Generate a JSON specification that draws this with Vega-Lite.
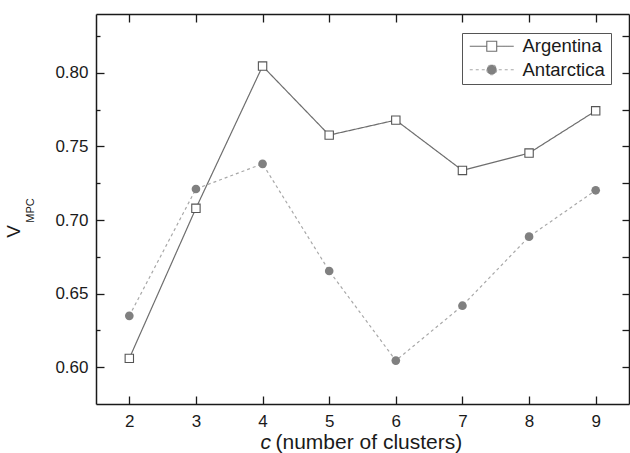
{
  "$schema": "https://vega.github.io/schema/vega-lite/v6.json",
  "width": 533,
  "height": 390,
  "autosize": {"type": "none"},
  "padding": {"left": 96, "top": 14, "right": 1, "bottom": 49},
  "background": "white",
  "config": {
    "font": "Liberation Sans",
    "view": {"stroke": null},
    "axis": {"grid": false, "domainColor": "#1a1a1a", "domainWidth": 1.5, "tickColor": "#1a1a1a", "tickWidth": 1.3, "labelColor": "#1a1a1a", "titleColor": "#1a1a1a", "labelFont": "Liberation Sans", "titleFont": "Liberation Sans", "titleFontWeight": "normal"}
  },
  "data": {
    "values": [
      {"c": 2, "series": "Argentina", "v": 0.606},
      {"c": 3, "series": "Argentina", "v": 0.708},
      {"c": 4, "series": "Argentina", "v": 0.8046},
      {"c": 5, "series": "Argentina", "v": 0.7577},
      {"c": 6, "series": "Argentina", "v": 0.7679},
      {"c": 7, "series": "Argentina", "v": 0.7337},
      {"c": 8, "series": "Argentina", "v": 0.7455},
      {"c": 9, "series": "Argentina", "v": 0.7742},
      {"c": 2, "series": "Antarctica", "v": 0.6349},
      {"c": 3, "series": "Antarctica", "v": 0.7211},
      {"c": 4, "series": "Antarctica", "v": 0.7382},
      {"c": 5, "series": "Antarctica", "v": 0.6654},
      {"c": 6, "series": "Antarctica", "v": 0.6045},
      {"c": 7, "series": "Antarctica", "v": 0.6418},
      {"c": 8, "series": "Antarctica", "v": 0.6887},
      {"c": 9, "series": "Antarctica", "v": 0.7202}
    ]
  },
  "resolve": {"axis": {"x": "independent", "y": "independent"}},
  "layer": [
    {
      "mark": {"type": "line", "strokeWidth": 1.2},
      "encoding": {
        "x": {"field": "c", "type": "quantitative", "scale": {"domain": [1.5, 9.5], "nice": false, "zero": false},
          "axis": {"orient": "bottom", "values": [2, 3, 4, 5, 6, 7, 8, 9], "tickSize": -8, "labelPadding": 17, "labelFontSize": 17,
            "title": "(number of clusters)", "titleFontSize": 21, "titleX": 179, "titleY": 44, "titleAlign": "left", "titleBaseline": "alphabetic", "titleAnchor": null}},
        "y": {"field": "v", "type": "quantitative", "scale": {"domain": [0.575, 0.84], "nice": false, "zero": false},
          "axis": {"orient": "left", "values": [0.6, 0.65, 0.7, 0.75, 0.8], "format": ".2f", "tickSize": -8, "labelPadding": 16, "labelFontSize": 17,
            "title": "V", "titleFontSize": 19, "titleAngle": 270, "titleX": -77, "titleY": 217, "titleAlign": "center", "titleBaseline": "alphabetic"}},
        "color": {"field": "series", "type": "nominal", "scale": {"domain": ["Argentina", "Antarctica"], "range": ["#6e6e6e", "#a8a8a8"]},
          "legend": {
            "title": null, "orient": "none", "legendX": 366, "legendY": 19,
            "strokeColor": "#555555", "padding": 4, "symbolSize": 121, "labelFontSize": 18.5, "labelFont": "Liberation Sans", "labelColor": "#1a1a1a",
            "labelOffset": 38, "rowPadding": 4.5,
            "encode": {"symbols": {"update": {
              "shape": {"signal": "datum.value === 'Argentina' ? 'M-2.45,0M23.5,0M-1,0H2.1M3.9,0H7M2.1,-0.9H3.9V0.9H2.1Z' : 'M-2.45,0M23.5,0M-1,0H-0.45M0.09,0H0.64M1.18,0H1.73M4.27,0H4.82M5.36,0H5.91M6.45,0H7M2.1,0A0.9,0.9 0 1,0 3.9,0A0.9,0.9 0 1,0 2.1,0Z'"},
              "fill": {"signal": "datum.value === 'Argentina' ? '#ffffff' : '#808080'"},
              "stroke": {"signal": "datum.value === 'Argentina' ? '#555555' : '#9a9a9a'"},
              "strokeDash": {"value": []},
              "strokeWidth": {"value": 1.1},
              "opacity": {"value": 1}
            }}}
          }},
        "strokeDash": {"field": "series", "type": "nominal", "scale": {"domain": ["Argentina", "Antarctica"], "range": [[1, 0], [3, 3]]}, "legend": null}
      }
    },
    {
      "transform": [{"filter": "datum.series === 'Argentina'"}],
      "mark": {"type": "point", "shape": "square", "size": 70, "strokeWidth": 1.1, "opacity": 1, "fill": "#ffffff", "stroke": "#555555", "filled": false},
      "encoding": {
        "x": {"field": "c", "type": "quantitative",
          "axis": {"orient": "top", "values": [2, 3, 4, 5, 6, 7, 8, 9], "tickSize": -8, "labels": false, "title": null}},
        "y": {"field": "v", "type": "quantitative",
          "axis": {"orient": "right", "values": [0.6, 0.625, 0.65, 0.675, 0.7, 0.725, 0.75, 0.775, 0.8, 0.825], "tickSize": -7, "labels": false, "title": null}}
      }
    },
    {
      "transform": [{"filter": "datum.series === 'Antarctica'"}],
      "mark": {"type": "point", "shape": "circle", "size": 75, "opacity": 1, "filled": true, "color": "#808080"},
      "encoding": {
        "x": {"field": "c", "type": "quantitative", "axis": null},
        "y": {"field": "v", "type": "quantitative", "axis": null}
      }
    },
    {
      "mark": {"type": "point", "opacity": 0},
      "encoding": {
        "x": {"field": "c", "type": "quantitative",
          "axis": {"orient": "bottom", "labels": false, "ticks": false, "domain": false, "title": "c", "titleFontStyle": "italic", "titleFontSize": 21, "titleX": 164, "titleY": 44, "titleAlign": "left", "titleBaseline": "alphabetic", "titleAnchor": null}},
        "y": {"field": "v", "type": "quantitative",
          "axis": {"orient": "left", "values": [0.625, 0.675, 0.725, 0.775, 0.825], "tickSize": -4, "labels": false, "domain": false,
            "title": "MPC", "titleFontSize": 11, "titleAngle": 270, "titleX": -63, "titleY": 196, "titleAlign": "center", "titleBaseline": "alphabetic"}}
      }
    }
  ]
}
